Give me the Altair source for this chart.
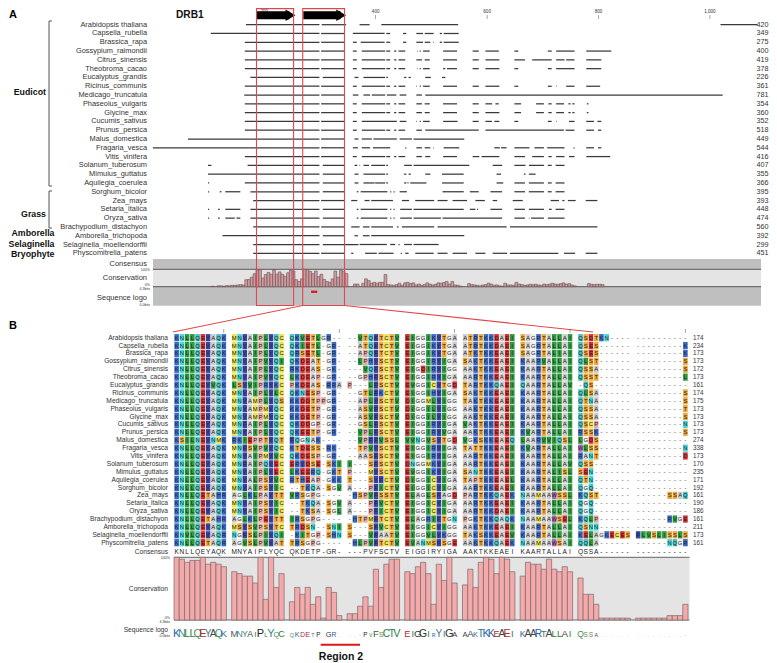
import altair as alt
import pandas as pd

# ---------- data ----------
species = ["Arabidopsis thaliana","Capsella_rubella","Brassica_rapa","Gossypium_raimondii","Citrus_sinensis",
 "Theobroma_cacao","Eucalyptus_grandis","Ricinus_communis","Medicago_truncatula","Phaseolus_vulgaris","Glycine_max",
 "Cucumis_sativus","Prunus_persica","Malus_domestica","Fragaria_vesca","Vitis_vinifera","Solanum_tuberosum",
 "Mimulus_guttatus","Aquilegia_coerulea","Sorghum_bicolor","Zea_mays","Setaria_italica","Oryza_sativa",
 "Brachypodium_distachyon","Amborella_trichopoda","Selaginella_moellendorffii","Physcomitrella_patens"]
lengths_a = [420,349,275,400,419,378,226,361,781,354,360,352,518,449,544,416,407,355,366,395,393,448,474,560,392,299,451]
lengths_b = [174,234,173,173,172,173,161,174,175,173,173,173,173,274,338,173,170,235,171,192,161,190,186,161,211,173,161]

segments = [
 [(167,299),(303,347),(371,389),(410,548),(1019,1085)],
 [(104,299),(302,344),(359,416),(419,426),(449,455),(473,485),(488,504),(515,519),(522,549)],
 [(165,299),(302,344),(359,366),(373,416),(419,426),(449,455),(473,485),(488,498),(503,504),(515,519),(522,549)],
 [(165,299),(302,344),(359,366),(375,417),(419,426),(433,437),(441,453),(474,475),(479,481),(485,497),(521,546),(574,585),(597,621),(649,656),(709,716),(724,757),(778,823)],
 [(165,299),(302,344),(359,366),(375,417),(419,426),(433,437),(441,453),(473,483),(488,497),(521,546),(574,585),(597,622),(649,668),(681,716),(724,739),(742,757),(778,805)],
 [(165,299),(302,344),(359,366),(375,417),(419,426),(433,437),(441,453),(474,475),(479,481),(485,497),(521,525),(528,546),(574,585),(597,622),(649,656),(709,716),(724,757),(778,805)],
 [(175,299),(305,344),(362,369),(378,417),(419,422),(451,455),(459,463),(489,499),(519,525)],
 [(165,299),(302,344),(359,366),(375,417),(419,426),(433,437),(441,453),(473,474),(479,481),(485,497),(521,546),(574,585),(597,622),(649,656),(709,716),(724,725),(742,757),(778,803)],
 [(164,299),(302,344),(359,369),(378,390),(393,417),(420,437),(443,455),(473,483),(489,1023)],
 [(165,299),(302,344),(359,366),(375,417),(419,426),(433,437),(441,453),(473,483),(488,497),(521,546),(574,585),(597,609),(615,621),(649,661),(688,702),(710,716),(724,738),(746,750),(753,757),(779,782)],
 [(165,299),(302,344),(359,366),(375,417),(419,426),(433,437),(441,453),(473,483),(488,497),(521,546),(574,585),(597,622),(649,661),(688,702),(710,716),(724,738),(746,750),(753,757),(779,782)],
 [(165,299),(302,344),(359,366),(375,438),(443,455),(473,474),(479,481),(485,497),(521,547),(574,585),(597,609),(613,622),(649,656),(709,716),(724,725),(747,757),(778,792),(798,805)],
 [(165,299),(302,344),(359,366),(375,417),(419,426),(433,437),(441,453),(473,483),(489,585),(597,738),(741,757),(778,792),(799,805)],
 [(63,299),(302,344),(362,369),(375,393),(396,438),(443,465),(468,559)],
 [(0,299),(302,344),(359,368),(375,390),(395,426),(453,455),(473,483),(488,498),(503,504),(522,550),(613,623),(625,635),(649,676),(685,702),(708,739),(755,757),(778,792),(799,805)],
 [(165,299),(302,344),(359,366),(375,417),(419,426),(433,437),(441,453),(473,483),(489,498),(521,546),(574,586),(590,622),(649,668),(681,702),(710,716),(724,739),(747,757),(778,821)],
 [(99,105),(170,299),(305,344),(362,367),(371,372),(378,388),(392,417),(419,422),(451,465),(468,568),(610,627),(649,669),(675,702),(709,716),(723,739)],
 [(99,299),(305,344),(362,369),(378,417),(419,422),(451,455),(459,463),(489,498),(519,558),(617,625),(666,669),(675,687)],
 [(99,101),(165,299),(305,344),(362,369),(378,398),(399,417),(419,422),(451,455),(457,459),(462,491),(519,558),(617,629),(649,668),(675,702),(709,716),(723,739)],
 [(99,101),(120,123),(130,157),(175,299),(305,344),(366,369),(373,421),(426,428),(432,434),(443,456),(520,558),(569,585),(606,627),(649,668),(675,702),(709,716),(723,739)],
 [(180,299),(302,344),(356,367),(380,389),(392,431),(447,460),(471,505),(511,529),(538,564),(579,596),(610,618),(646,664),(714,729),(735,739),(745,759),(777,798)],
 [(99,101),(117,120),(130,157),(175,299),(305,344),(366,369),(373,421),(426,428),(432,434),(444,465),(468,558),(569,579),(582,584),(606,627),(649,668),(675,702),(711,716),(723,739)],
 [(99,101),(117,120),(130,147),(150,157),(175,299),(305,344),(366,369),(373,421),(426,428),(432,434),(444,465),(468,517),(520,627),(649,668),(675,676),(679,702),(709,739)],
 [(180,299),(302,344),(356,371),(377,389),(392,431),(438,441),(447,505),(511,635),(641,798)],
 [(125,299),(305,344),(362,368),(377,389),(392,559)],
 [(180,299),(305,369),(371,420),(426,435),(441,443),(451,465),(468,513)],
 [(180,299),(302,344),(356,360),(381,402),(405,432),(445,447),(453,459),(471,504),(511,529),(538,564),(579,597),(610,636),(641,728),(738,758),(777,798)],
]

conservation_a = [0,3,0,5,5,3,6,5,8,8,10,12,10,
 40,42,55,75,95,98,50,70,82,72,95,72,85,72,60,80,95,90,40,30,45,
 100,98,88,75,90,58,72,42,30,25,45,90,55,95,88,75,0,0,
 15,15,0,20,45,35,20,25,20,25,25,70,12,10,8,12,20,8,22,25,18,22,10,15,8,12,22,15,10,14,22,20,24,30,15,30,10,8,3,0,0,
 18,12,10,8,5,10,12,20,15,8,10,5,3,20,10,10,8,25,15,12,8,10,14,12,14,10,8,15,12,15,20,15,14,18,22,14,18,10,5,0,0,0,0,
 18,14,12,14,14,12]

alignment = [
 "KNLLQEYAQK MNYAIPLYQC QKVETLGR-- --VTQFTCTV EIGGIKYTGA ATRTKKDAEI SAGRTALLAI QSDTKN---- ----------",
 "KNLLQEYAQK MNYAIPLYQC QKIETL-GR- --ATQFTCTV EIGGIKYTGA ATRTKKDAEI SAGRTALLAI QSES------ ---------K",
 "KNLLQEYAQK MNYAIPLYQC QRSETL-GR- --APQFTCTV EIGGIKYTGA ATKTKKEAEI SAGRTALIAI QSES------ ---------K",
 "KNLLQEYAQK MNYAIPVYQI QKDEAT-GR- --LPHYSCTV EIGGIRYIGA SAKTKKEAEI KAARVALLAI QLST------ ---------S",
 "KNLLQEYAQK MNYAIPLYQC RKDEAS-GK- ---VQFSCTV EIGDIRYIGG AAKTKKEAEI KAARTALLAI QSSA------ ---------S",
 "KNLLQEYAQK MNYAIPVYQC LKDEAP-GR- --GPHFSCTV EIGGIRYIGA AARTKKEAEI KAARTALLAI QSST------ ---------L",
 "KNLLQEYVQK LSYVIPRYKC PKDEAS-RRA P---LFSCTV EVGGICYTGD TARTKKQAEI QAARTALLAV -QS------- ----------",
 "KNLLQEYAQK MNYAIPLYLC QKNESP-GR- --GTLFKCTV EIGGIHYIGA SAKTKKEAEI KAARTALLAI QLSA------ ---------S",
 "KNLLQEYAQK MNYAMPLYQS KKDDTPPGR- --APLYSCTV DIGGMLYIGG TAKTKKEAEI KAARTALLAI QTNA------ ---------S",
 "KNLLQEYAQK MNYAMPMYQC KKDETP-GR- --ASVFSCTV DIGGILYIGG AAKTKKEAEI KAARTALLAI QSSA------ ---------T",
 "KNLLQEYAQK MNYAMPMYQC KKDETP-GR- --ASVFSCTV DIGGILYIGG AAKTKKEAEI KAARTALLAI QSSA------ ---------S",
 "KNLLQEYAQK MNFAIPLYQC QKDDGP-GR- --GSLFSCTV EIGGIRYIGA VAKTKKEAEI KAARTALLAI QSCP------ ---------N",
 "KNLLQEYAQK MNYAIPLYQC QKEETP-GR- --VPLFSCTV EIGGIRYVGA AAKTKKEAEI KVARTALLAI RSSK------ ---------S",
 "KSILNEYNMK RKIEPPTYQT FQGNAK---- --VPFFVSSL VVNGVSYTGD VGKSKKEAEQ LAARVVIQSL LGDS------ ----------",
 "KNLLQEYAQK MNFSVPVYQC KTDESS-RK- --TPVYSCTV EIGGIRYIGA TATTKKEAEI KVARTALLAI WLSS------ ---------N",
 "KNLLQEYAQK MNYAIPMYVC QKDESP-GR- --AASFSCTV EIGGIRYIGA AARTKKEAEI KAARTALLAI RANT------ ---------D",
 "KNLLQEYAQK MNFAIPQYEC ERYDSE-SKI I---SFSCTV DNGGMKYIGA AARTKKEAEI KAARTALLAV QSS------- ----------",
 "KNLLQEYAQK MNYAIPLYEC LKEERQ-GKT P---MYSCTV EVGGIKYIGA SANTKKEAEI KAARTALISL SEN------- ----------",
 "KNLLQEYAQK MNYALPSYVC RTHEAP-GKK T---SYFCTV DIGGICYIGA TAPTKKEAEL KAARTALLAI QTN------- ----------",
 "KNLLQEYAQK MNYAIPSYIC --TKQA-SGV A---PFICTV EIGGICYIGA AARTKKEAEI KAARTALLAI QGQ------- ----------",
 "KNLLQETAHR AGLKLPAYTT VRSGPG---- -HSPVFSSTV ELAGLSFAGD PARTKKQAEK NAAMAAWSSL KQST------ ------SSAQ",
 "KNLLQEYAQK MNYAIPSYIC --TKQA-SGV A---PFVCTV EIGGICYIGA AARTKKEAEI KAARTALLAI QGQ------- ----------",
 "KNLLQEYAQK MNYAIPSYIC --TKSA-SGL A---PFICTV EIGGICYIGA AARTKKDAEI KAARTALLAI QGQ------- ----------",
 "KNLLQETAHR AGLKLPEYTT IRSGPG---- -HTPMFTCTV ELAGRIFTGN PGKTKKQAQK NAAMAAWSEL KQLP------ ------RVGE",
 "KNLLQEYAQK MSYSVPSYTC TRDSN--SNI S---SFVCTV EIGGICYIGG AAKTKKEAEI KAARTALLAI QSNN------ ----------",
 "KNVLQEYAQR NGFSLPIYQI -KITGP-SHN S---VFAATV EIGGVLYKGG TAKSKKEAEV KAARTALLAI KELAGKECES FLVSLISSLS",
 "KNLLQETAQR AGVSLPVYAT TRSGPG---- -HLPVFTCTV EVANMSFSGE AAKTKKQAEK NAAMAAWSAI QQLA------ ------NQGR",
]
consensus = "KNLLQEYAQK MNYAIPLYQC QKDETP-GR- ---PVFSCTV EIGGIRYIGA AAKTKKEAEI KAARTALLAI QSSA------ ----------"
conservation_b = [100,97,92,95,95,100,89,92,89,85, 77,74,70,70,59,100,33,100,52,74,
 29,52,41,52,25,37,3,52,44,7, 10,10,22,37,22,81,52,89,97,97,
 77,74,85,92,74,25,89,63,100,59, 56,81,52,92,100,97,74,100,97,77,
 70,92,89,89,81,97,81,77,85,77, 67,41,41,25,3,3,3,3,3,3, 3,3,3,3,3,3,7,7,7,25]

residue_colors = {"K":"#3d6cc8","R":"#3d6cc8","N":"#45d6d6","Q":"#45c4c4","L":"#2f9a40","I":"#2f9a40","V":"#2f9a40",
 "E":"#d63030","D":"#d63030","Y":"#3a46a6","F":"#3a46a6","H":"#3a6cc8","A":"#cccccc","M":"#eee24a","C":"#eee24a",
 "P":"#e2aaa2","S":"#f0a838","T":"#f0a838","G":"#eeeeee","W":"#a865b5"}
logo_colors = {"K":"#2c5fb0","R":"#2c5fb0","N":"#3f8f9a","Q":"#3f8f5a","L":"#2f7d3a","I":"#2f7d3a","V":"#2f7d3a",
 "E":"#b02a2a","D":"#b02a2a","Y":"#3f7f8a","F":"#3a5a5a","H":"#2c5fb0","A":"#444444","M":"#555555","C":"#2f7d3a",
 "P":"#222222","S":"#5f8f4a","T":"#2f7d7a","G":"#333333","W":"#555555","-":"#999999"}

# ---------- layout constants (page pixels) ----------
O = 8
def r(a, b): return [a - O, b - O]
RED, DARK = "#e2474d", "#555555"
FONT = "Liberation Sans"

XA = alt.Scale(domain=[0, 1100], range=r(152.9, 765.6))
YA = alt.Scale(type="point", domain=species, range=r(24.7, 253.3), padding=0)
XB = alt.Scale(domain=[0, 100], range=r(174.0, 698.5))
YB = alt.Scale(domain=[0, 26], range=r(337.7, 542.7))
CA = alt.Scale(domain=[0, 100], range=r(286.7, 269.3))
CB = alt.Scale(domain=[0, 100], range=r(620.0, 557.3))

one = pd.DataFrame({"a": [0]})
def line(x1, y1, x2, y2, color=DARK, w=1.0):
    return alt.Chart(one).mark_rule(color=color, strokeWidth=w).encode(
        x=alt.value(x1 - O), x2=alt.value(x2 - O), y=alt.value(y1 - O), y2=alt.value(y2 - O))
def band(x1, y1, x2, y2, color):
    return alt.Chart(one).mark_rect(color=color).encode(
        x=alt.value(x1 - O), x2=alt.value(x2 - O), y=alt.value(y1 - O), y2=alt.value(y2 - O))
def label(s, x, y, size, align="right", bold=False, color="#222222"):
    return alt.Chart(pd.DataFrame({"t": [s]})).mark_text(
        align=align, baseline="middle", font=FONT, fontSize=size, fontWeight="bold" if bold else "normal", color=color
    ).encode(x=alt.value(x - O), y=alt.value(y - O), text="t:N")

layers = []
# ---------- panel A ----------
layers += [label("A", 9, 15, 11, "left", True, "#000000"), label("DRB1", 176, 15, 10.2, "left", True, "#111111")]
ticks = pd.DataFrame({"p": [200, 400, 600, 800, 1000], "t": ["200", "400", "600", "800", "1,000"]})
layers.append(alt.Chart(ticks).mark_tick(color="#333333", orient="vertical", size=4, thickness=0.6).encode(
    x=alt.X("p:Q", scale=XA, axis=None), y=alt.value(17 - O)))
layers.append(alt.Chart(ticks).mark_text(font=FONT, fontSize=4.6, color="#333333", baseline="middle").encode(
    x=alt.X("p:Q", scale=XA, axis=None), y=alt.value(12 - O), text="t:N"))

sp_df = pd.DataFrame({"species": species, "n": lengths_a, "nb": lengths_b, "row": range(len(species))})
layers.append(alt.Chart(sp_df).mark_text(align="right", baseline="middle", font=FONT, fontSize=7.4, color="#333333").encode(
    x=alt.value(147 - O), y=alt.Y("species:N", scale=YA, axis=None, sort=None), text="species:N"))
layers.append(alt.Chart(sp_df).mark_text(align="right", baseline="middle", font=FONT, fontSize=7.2, color="#333333").encode(
    x=alt.value(768.5 - O), y=alt.Y("species:N", scale=YA, axis=None, sort=None), text="n:Q"))

# grey tracks
layers += [band(153, 259, 761, 305.7, "#bfbfbf"), band(153, 269.3, 761, 286.7, "#e4e4e4"),
           line(153, 269.3, 761, 269.3, "#4a4a4a", 0.9), line(153, 286.7, 761, 286.7, "#4a4a4a", 0.9)]

seg_df = pd.DataFrame([{"species": s, "start": a, "end": b} for s, segs in zip(species, segments) for a, b in segs])
layers.append(alt.Chart(seg_df).mark_rule(color="#3a3a3a", strokeWidth=1.25).encode(
    x=alt.X("start:Q", scale=XA, axis=None), x2="end:Q", y=alt.Y("species:N", scale=YA, axis=None, sort=None)))

ca_df = pd.DataFrame({"p": [100 + 5 * i for i in range(len(conservation_a))], "v": conservation_a})
ca_df["p2"] = ca_df.p + 5
ca_df["z"] = 0
layers.append(alt.Chart(ca_df[ca_df.v > 0]).mark_rect(fill="#cf9a9e", stroke="#6a5254", strokeWidth=0.6).encode(
    x=alt.X("p:Q", scale=XA, axis=None), x2="p2:Q", y=alt.Y("v:Q", scale=CA, axis=None), y2="z:Q"))

# arrows
arrows = pd.DataFrame({"s": [186, 270], "e": [245, 337], "tip": [247, 338]})
layers.append(alt.Chart(arrows).mark_rule(color="#000000", strokeWidth=8).encode(
    x=alt.X("s:Q", scale=XA, axis=None), x2="e:Q", y=alt.value(15.3 - O)))
layers.append(alt.Chart(arrows).mark_point(shape="triangle-right", filled=True, color="#000000", size=130, opacity=1).encode(
    x=alt.X("tip:Q", scale=XA, axis=None), y=alt.value(15.3 - O)))

# group labels and brackets
for s, xr, yy in [("Eudicot", 46, 92), ("Grass", 46, 214), ("Amborella", 54.5, 233), ("Selaginella", 54.5, 243.5), ("Bryophyte", 54.5, 254)]:
    layers.append(label(s, xr, yy, 8.8, "right", True, "#111111"))
for y1, y2 in [(21, 186), (191, 228)]:
    layers += [line(49, y1, 49, y2, "#555555", 1), line(49, y1, 52, y1, "#555555", 1), line(49, y2, 52, y2, "#555555", 1)]
for s, yy in [("Consensus", 264), ("Conservation", 278), ("Sequence logo", 298)]:
    layers.append(label(s, 147, yy, 7.5, "right", False, "#333333"))
for s, yy in [("100%", 270), ("0%", 285), ("4.3bits", 288.8), ("0.0bits", 304.5)]:
    layers.append(label(s, 150, yy, 3.6, "right", False, "#333333"))

# red boxes and connectors
boxes = pd.DataFrame({"s": [186, 269], "e": [252.6, 344]})
layers.append(alt.Chart(boxes).mark_rect(fillOpacity=0, stroke=RED, strokeWidth=1.1).encode(
    x=alt.X("s:Q", scale=XA, axis=None), x2="e:Q", y=alt.value(8.6 - O), y2=alt.value(305.5 - O)))
region_mark = pd.DataFrame({"s": [284], "e": [295]})
layers.append(alt.Chart(region_mark).mark_rule(color="#d8202a", strokeWidth=2.4).encode(
    x=alt.X("s:Q", scale=XA, axis=None), x2="e:Q", y=alt.value(291.8 - O)))
layers += [line(302.7, 305.5, 173, 332, RED, 1.1), line(344.3, 305.5, 593, 332, RED, 1.1)]

# ---------- panel B ----------
layers.append(label("B", 9, 326, 11, "left", True, "#000000"))
cells = []
for ri, row in enumerate(alignment):
    seq = row.replace(" ", "").ljust(90, "-")
    for c, ch in enumerate(seq):
        cells.append({"row": ri, "pos": c + c // 10, "ch": ch})
cell_df = pd.DataFrame(cells)
cell_df["x1"] = cell_df.pos + 0.06
cell_df["x2"] = cell_df.pos + 0.94
cell_df["xc"] = cell_df.pos + 0.5
cell_df["y1"] = cell_df.row - 0.46
cell_df["y2"] = cell_df.row + 0.46
colored = cell_df[cell_df.ch != "-"]
keys = list(residue_colors)
layers.append(alt.Chart(colored).mark_rect().encode(
    x=alt.X("x1:Q", scale=XB, axis=None), x2="x2:Q", y=alt.Y("y1:Q", scale=YB, axis=None), y2="y2:Q",
    color=alt.Color("ch:N", scale=alt.Scale(domain=keys, range=[residue_colors[k] for k in keys]), legend=None)))
layers.append(alt.Chart(cell_df).mark_text(font=FONT, fontSize=5.9, baseline="middle", color="#222222").encode(
    x=alt.X("xc:Q", scale=XB, axis=None), y=alt.Y("row:Q", scale=YB, axis=None), text="ch:N"))

layers.append(alt.Chart(sp_df).mark_text(align="right", baseline="middle", font=FONT, fontSize=6.65, color="#333333").encode(
    x=alt.value(168 - O), y=alt.Y("row:Q", scale=YB, axis=None), text="species:N"))
layers.append(alt.Chart(sp_df).mark_text(align="left", baseline="middle", font=FONT, fontSize=6.3, color="#333333").encode(
    x=alt.value(693 - O), y=alt.Y("row:Q", scale=YB, axis=None), text="nb:Q"))

tick_b = pd.DataFrame({"pos": [9.5, 31.5, 53.5, 75.5, 97.5]})
layers.append(alt.Chart(tick_b).mark_tick(color="#333333", orient="vertical", size=4, thickness=0.6).encode(
    x=alt.X("pos:Q", scale=XB, axis=None), y=alt.value(331 - O)))

cons = consensus.replace(" ", "")
bottom = pd.DataFrame([{"pos": c + c // 10, "ch": cons[c], "v": conservation_b[c]} for c in range(90)])
bottom["xc"] = bottom.pos + 0.5
bottom["x2"] = bottom.pos + 1
bottom["z"] = 0
layers.append(alt.Chart(bottom).mark_text(font=FONT, fontSize=6.6, baseline="middle", color="#222222").encode(
    x=alt.X("xc:Q", scale=XB, axis=None), y=alt.value(552 - O), text="ch:N"))

layers += [band(174, 557.3, 689.5, 620, "#e4e4e4"), line(174, 557.3, 689.5, 557.3, "#555555", 0.9),
           line(174, 620, 689.5, 620, "#555555", 0.9)]
layers.append(alt.Chart(bottom).mark_rect(fill="#f4a9ab", stroke="#7a6a6a", strokeWidth=0.7).encode(
    x=alt.X("pos:Q", scale=XB, axis=None), x2="x2:Q", y=alt.Y("v:Q", scale=CB, axis=None), y2="z:Q"))

lk = list(logo_colors)
layers.append(alt.Chart(bottom).mark_text(font=FONT, baseline="alphabetic").encode(
    x=alt.X("xc:Q", scale=XB, axis=None), y=alt.value(637 - O), text="ch:N",
    size=alt.Size("v:Q", scale=alt.Scale(domain=[0, 100], range=[3.5, 11]), legend=None),
    color=alt.Color("ch:N", scale=alt.Scale(domain=lk, range=[logo_colors[k] for k in lk]), legend=None)))

for s, yy in [("Consensus", 552), ("Conservation", 589), ("Sequence logo", 630)]:
    layers.append(label(s, 168, yy, 6.65, "right", False, "#333333"))
for s, yy in [("100%", 558), ("0%", 618), ("4.3bits", 622), ("0.0bits", 636)]:
    layers.append(label(s, 170, yy, 3.6, "right", False, "#333333"))

layers.append(line(320.7, 644.7, 360, 644.7, "#e0141c", 2))
layers.append(label("Region 2", 341, 656.5, 10.5, "center", True, "#111111"))

chart = alt.layer(*layers).resolve_scale(x="independent", y="independent", color="independent", size="independent").properties(
    width=761, height=655, padding=0, autosize=alt.AutoSizeParams(type="none")
).configure_view(stroke=None)
chart.save("out.html", embed_options={"renderer": "svg", "actions": False})
